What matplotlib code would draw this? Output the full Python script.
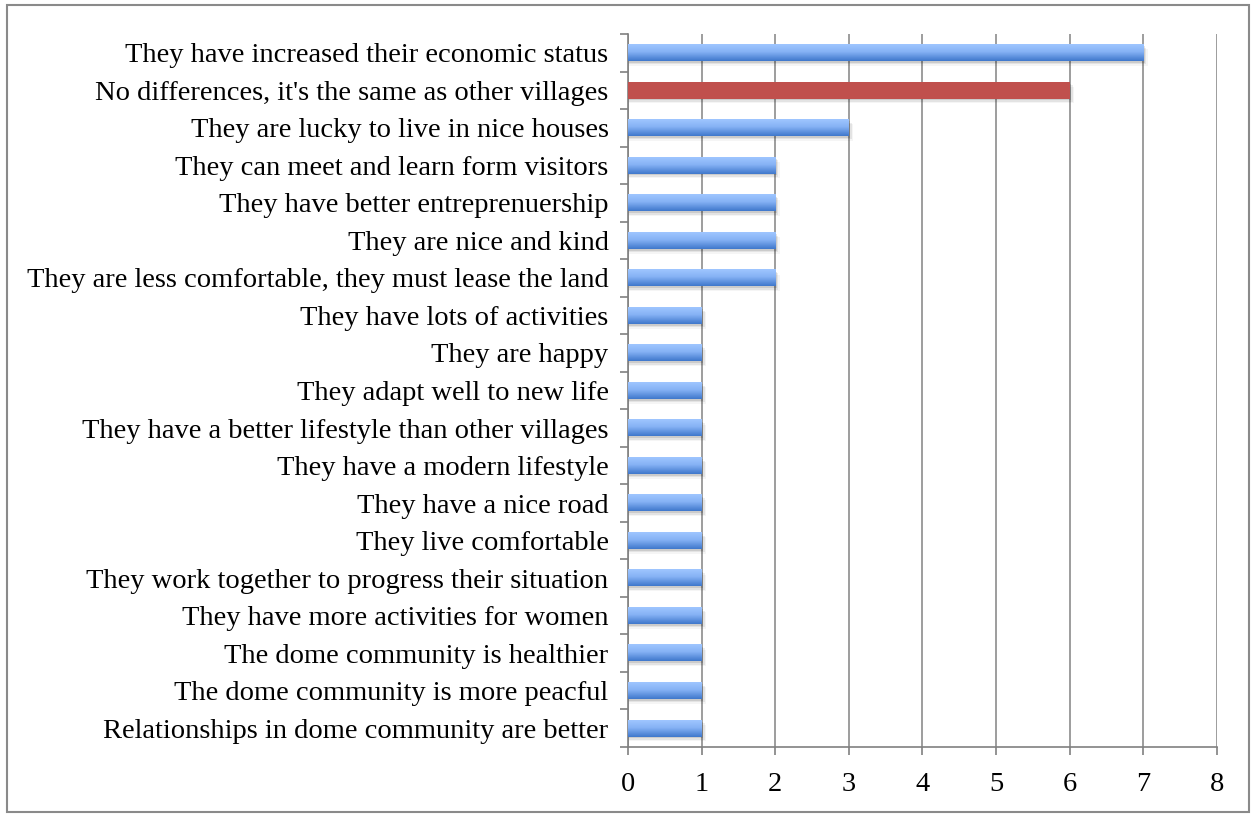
import numpy as np
import matplotlib
matplotlib.use("Agg")
import matplotlib.pyplot as plt
from matplotlib.colors import LinearSegmentedColormap
from matplotlib.patches import Rectangle

labels = [
    "They have increased their economic status",
    "No differences, it's the same as other villages",
    "They are lucky to live in nice houses",
    "They can meet and learn form visitors",
    "They have better entreprenuership",
    "They are nice and kind",
    "They are less comfortable, they must lease the land",
    "They have lots of activities",
    "They are happy",
    "They adapt well to new life",
    "They have a better lifestyle than other villages",
    "They have a modern lifestyle",
    "They have a nice road",
    "They live comfortable",
    "They work together to progress their situation",
    "They have more activities for women",
    "The dome community is healthier",
    "The dome community is more peacful",
    "Relationships in dome community are better",
]
counts = [7, 6, 3, 2, 2, 2, 2, 1, 1, 1, 1, 1, 1, 1, 1, 1, 1, 1, 1]
highlight = "No differences, it's the same as other villages"

plt.rcParams["font.family"] = ["Liberation Serif", "DejaVu Serif"]

fig = plt.figure(figsize=(12.52, 8.14), dpi=100)
ax = fig.add_axes([0.5016, 0.0823, 0.4704, 0.8759])

blue = LinearSegmentedColormap.from_list(
    "bar", [(0.0, "#9fc6ff"), (0.45, "#86b2f5"), (1.0, "#3f78cc")])
grad = np.linspace(0, 1, 64).reshape(-1, 1)
h = 0.44
n = len(labels)

for i, (lab, v) in enumerate(zip(labels, counts)):
    # soft drop shadow under each bar
    for k, a in enumerate([0.10, 0.07, 0.04]):
        off = 0.05 + 0.04 * k
        ax.add_patch(Rectangle((0, i - h / 2 + off), v + 0.02 * (k + 1), h,
                               color="black", alpha=a, lw=0, zorder=2))
    if lab == highlight:
        ax.add_patch(Rectangle((0, i - h / 2), v, h, color="#c0504d",
                               lw=0, zorder=3))
    else:
        ax.imshow(grad, cmap=blue, aspect="auto", interpolation="bilinear",
                  extent=(0, v, i + h / 2, i - h / 2), zorder=3)

ax.set_xlim(0, 8)
ax.set_ylim(n - 0.5, -0.5)
ax.set_xticks(range(0, 9))
ax.set_yticks(range(n))
ax.set_yticklabels(labels)
ax.set_yticks(np.arange(-0.5, n), minor=True)
ax.tick_params(axis="y", which="major", length=0, pad=14, labelsize=20.5)
ax.tick_params(axis="y", which="minor", length=6, width=1.2, color="#808080")
ax.tick_params(axis="x", length=6, width=1.2, color="#808080",
               pad=12, labelsize=20.5)
ax.grid(axis="x", color="#8c8c8c", lw=1.2, zorder=1)
ax.set_axisbelow(True)
for s in ["top", "right"]:
    ax.spines[s].set_visible(False)
for s in ["left", "bottom"]:
    ax.spines[s].set_color("#808080")
    ax.spines[s].set_linewidth(1.2)

# outer frame around the whole chart
fig.patches.append(Rectangle((0.0056, 0.003), 0.9924, 0.991,
                             transform=fig.transFigure, fill=False,
                             ec="#8a8a8a", lw=1.5))

fig.savefig("out.png", dpi=100)
